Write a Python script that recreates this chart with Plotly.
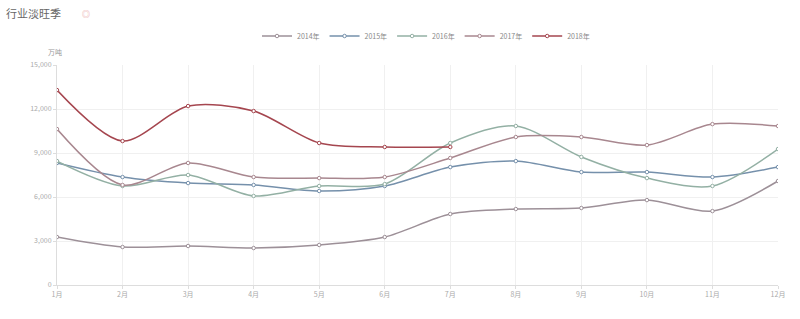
import plotly.graph_objects as go

months = ["1月", "2月", "3月", "4月", "5月", "6月", "7月", "8月", "9月", "10月", "11月", "12月"]
years = ["2014年", "2015年", "2016年", "2017年", "2018年"]

v2014 = [3270, 2590, 2660, 2520, 2730, 3270, 4840, 5180, 5250, 5790, 5040, 7090]
v2015 = [8320, 7360, 6950, 6820, 6410, 6750, 8040, 8450, 7700, 7700, 7360, 8040]
v2016 = [8450, 6750, 7500, 6070, 6750, 6880, 9680, 10840, 8730, 7290, 6750, 9270]
v2017 = [10630, 6820, 8320, 7360, 7290, 7360, 8660, 10090, 10090, 9540, 10970, 10840]
v2018 = [13290, 9815, 12200, 11860, 9680, 9410, 9410]

series = [v2014, v2015, v2016, v2017, v2018]
colors = ["#9d9098", "#7590ab", "#93b0a4", "#a8878f", "#a5464f"]

y_ticks = [0, 3000, 6000, 9000, 12000, 15000]
y_labels = ["0", "3,000", "6,000", "9,000", "12,000", "15,000"]

PW, PH = 721, 220  # plot area size in px


def px_x(x):
    return (x - 57) / PW


def px_y(y):
    return (285 - y) / PH


fig = go.Figure()
for name, vals, col in zip(years, series, colors):
    fig.add_trace(go.Scatter(
        x=months[:len(vals)], y=vals, name=name,
        mode="lines+markers", line=dict(color=col, width=1.5, shape="spline", smoothing=0.85),
        marker=dict(size=3.5, color="white", line=dict(color=col, width=1)),
    ))

fig.update_layout(
    width=800, height=319,
    margin=dict(l=57, r=22, t=65, b=34, autoexpand=False),
    paper_bgcolor="white", plot_bgcolor="white",
    font=dict(family="Noto Sans CJK SC", color="#999999", size=7),
    showlegend=True,
    legend=dict(orientation="h", x=px_x(426), xanchor="center", y=px_y(36), yanchor="middle",
                font=dict(size=7, color="#888888"), itemwidth=30),
)
fig.add_annotation(text="行业淡旺季", x=px_x(4), y=px_y(13), xref="paper", yref="paper", showarrow=False,
                   font=dict(size=11, color="#666666"), xanchor="left", yanchor="middle")
fig.add_annotation(text="◎", x=px_x(80), y=px_y(14), xref="paper", yref="paper",
                   showarrow=False, font=dict(size=8, color="#e8a0a0"), xanchor="left", yanchor="middle")
fig.add_annotation(text="万吨", x=px_x(55), y=px_y(52), xref="paper", yref="paper", showarrow=False,
                   font=dict(size=7, color="#999999"), xanchor="center", yanchor="middle")

fig.update_xaxes(
    type="category", range=[0, 11], showgrid=True, gridcolor="#f0f0f0",
    showline=True, linecolor="#dddddd", ticks="outside", ticklen=3, tickcolor="#dddddd",
    tickfont=dict(size=7, color="#aaaaaa"),
)
fig.update_yaxes(
    range=[0, 15000], tickvals=y_ticks, ticktext=y_labels, showgrid=True, gridcolor="#f0f0f0",
    showline=True, linecolor="#dddddd", ticks="outside", ticklen=3, tickcolor="#dddddd",
    tickfont=dict(size=7, color="#aaaaaa"), zeroline=False,
)

fig.write_html("out.html")
